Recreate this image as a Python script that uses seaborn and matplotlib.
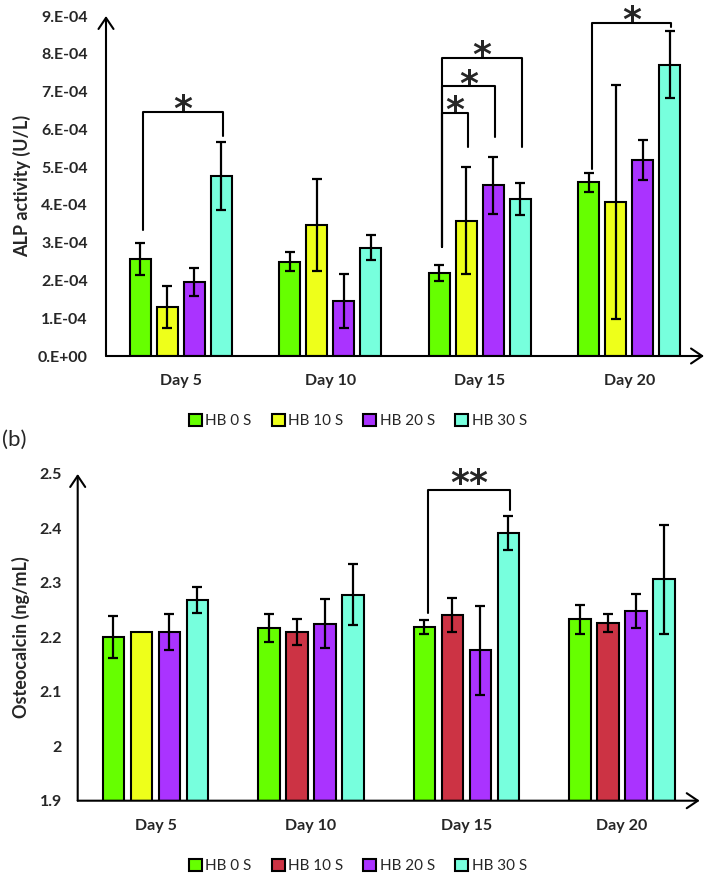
import numpy as np
import pandas as pd
import matplotlib
matplotlib.use("Agg")
import matplotlib.pyplot as plt
import seaborn as sns

days = ["Day 5", "Day 10", "Day 15", "Day 20"]
groups = ["HB 0 S", "HB 10 S", "HB 20 S", "HB 30 S"]

# (a) ALP activity (U/L), one list per group, Day 5..20
alp = {
    "HB 0 S": [2.56e-4, 2.49e-4, 2.19e-4, 4.60e-4],
    "HB 10 S": [1.29e-4, 3.46e-4, 3.58e-4, 4.07e-4],
    "HB 20 S": [1.96e-4, 1.46e-4, 4.52e-4, 5.20e-4],
    "HB 30 S": [4.76e-4, 2.87e-4, 4.16e-4, 7.71e-4],
}
alp_err = {
    "HB 0 S": [0.42e-4, 0.25e-4, 0.21e-4, 0.25e-4],
    "HB 10 S": [0.55e-4, 1.22e-4, 1.42e-4, 3.10e-4],
    "HB 20 S": [0.36e-4, 0.72e-4, 0.75e-4, 0.53e-4],
    "HB 30 S": [0.90e-4, 0.33e-4, 0.42e-4, 0.88e-4],
}
alp_ticks = [0, 1e-4, 2e-4, 3e-4, 4e-4, 5e-4, 6e-4, 7e-4, 8e-4, 9e-4]
alp_ticklabels = ["0.E+00", "1.E-04", "2.E-04", "3.E-04", "4.E-04",
                  "5.E-04", "6.E-04", "7.E-04", "8.E-04", "9.E-04"]
# significance brackets: day, left group, right group, top, left foot, right foot, label
alp_sig = [
    (0, 0, 3, 6.47e-4, 3.33e-4, 5.82e-4, "*"),
    (2, 0, 1, 6.44e-4, 2.88e-4, 5.52e-4, "*"),
    (2, 0, 2, 7.14e-4, 2.88e-4, 5.80e-4, "*"),
    (2, 0, 3, 7.89e-4, 2.88e-4, 5.52e-4, "*"),
    (3, 0, 3, 8.82e-4, 4.94e-4, 8.71e-4, "*"),
]

# (b) Osteocalcin (ng/mL)
ocn = {
    "HB 0 S": [2.201, 2.217, 2.219, 2.233],
    "HB 10 S": [2.210, 2.210, 2.241, 2.226],
    "HB 20 S": [2.210, 2.225, 2.176, 2.248],
    "HB 30 S": [2.268, 2.278, 2.392, 2.307],
}
ocn_err = {
    "HB 0 S": [0.039, 0.026, 0.013, 0.026],
    "HB 10 S": [np.nan, 0.024, 0.031, 0.017],
    "HB 20 S": [0.033, 0.045, 0.081, 0.031],
    "HB 30 S": [0.024, 0.056, 0.031, 0.100],
}
ocn_ticks = [1.9, 2.0, 2.1, 2.2, 2.3, 2.4, 2.5]
ocn_ticklabels = ["1.9", "2", "2.1", "2.2", "2.3", "2.4", "2.5"]
ocn_sig = [(2, 0, 3, 2.471, 2.245, 2.433, "**")]

green, yellow, purple, cyan, red = "#66ff00", "#eeff1a", "#aa33ff", "#77ffdd", "#cc3344"
pal_a = [green, yellow, purple, cyan]
pal_b = [green, red, purple, cyan]

sns.set_theme(style="white")
plt.rcParams["font.family"] = ["Lato", "DejaVu Sans"]


def long_df(vals):
    rows = []
    for g in groups:
        for d, v in zip(days, vals[g]):
            rows.append({"day": d, "group": g, "value": v})
    return pd.DataFrame(rows)


def bar_centers(ax, g):
    return [b.get_x() + b.get_width() / 2 for b in ax.containers[g]]


def draw_panel(ax, vals, errs, pal, ylim, ticks, ticklabels, ylabel, sig, tickpad, star_off):
    sns.barplot(data=long_df(vals), x="day", y="value", hue="group", palette=pal,
                width=0.72, gap=0.22, edgecolor="black", linewidth=1.5,
                saturation=1, errorbar=None, ax=ax)
    for i, g in enumerate(groups):
        xs = np.array(bar_centers(ax, i))
        v = np.array(vals[g])
        e = np.array(errs[g])
        ok = ~np.isnan(e)
        ax.errorbar(xs[ok], v[ok], yerr=e[ok], fmt="none", ecolor="black",
                    elinewidth=1.6, capsize=3.5, capthick=1.6, zorder=5)
    for d, g1, g2, top, lb, rb, lab in sig:
        x1 = bar_centers(ax, g1)[d] + 0.02
        x2 = bar_centers(ax, g2)[d] + 0.01
        ax.plot([x1, x1, x2, x2], [lb, top, top, rb], color="black", lw=1.5,
                clip_on=False, zorder=6)
        ax.annotate(lab, xy=((x1 + x2) / 2, top), xytext=(0, star_off),
                    textcoords="offset points", ha="center", va="baseline",
                    fontsize=26, fontweight="bold", family="DejaVu Sans",
                    annotation_clip=False)
    ax.set_xlim(-0.5, 3.5)
    ax.set_ylim(*ylim)
    ax.set_yticks(ticks)
    ax.set_yticklabels(ticklabels)
    ax.tick_params(axis="both", length=0, labelsize=11.5)
    ax.tick_params(axis="y", pad=tickpad)
    ax.tick_params(axis="x", pad=13)
    for lab in ax.get_xticklabels() + ax.get_yticklabels():
        lab.set_fontweight("bold")
    ax.set_xlabel("")
    ax.set_ylabel(ylabel, fontsize=13, fontweight="bold")
    sns.despine(ax=ax, left=True, bottom=True)
    arrow = dict(arrowstyle="->,head_length=0.4,head_width=0.27", lw=1.5,
                 color="black", shrinkA=0, shrinkB=0, mutation_scale=20)
    ax.annotate("", xy=(0, 1), xytext=(0, 0), xycoords="axes fraction", arrowprops=arrow)
    ax.annotate("", xy=(1, 0), xytext=(0, 0), xycoords="axes fraction", arrowprops=arrow)
    ax.get_legend().remove()


fig = plt.figure(figsize=(7.09, 8.76), dpi=100)
ax1 = fig.add_axes([106 / 709, 520 / 876, 598 / 709, 340 / 876])
ax2 = fig.add_axes([77.7 / 709, 75.3 / 876, 622 / 709, 326.7 / 876])

draw_panel(ax1, alp, alp_err, pal_a, (0, 9e-4), alp_ticks, alp_ticklabels,
           "ALP activity (U/L)", alp_sig, 13, -6)
draw_panel(ax2, ocn, ocn_err, pal_b, (1.9, 2.5), ocn_ticks, ocn_ticklabels,
           "Osteocalcin (ng/mL)", ocn_sig, 11.5, -3)

# Day 5 HB 10 S bar is drawn yellow in panel (b)
ax2.containers[1][0].set_facecolor(yellow)

ax1.yaxis.set_label_coords(-0.126, 0.5)
ax2.yaxis.set_label_coords(-0.077, 0.5)

for ax, pal, yc in [(ax1, pal_a, 1 - 421 / 876), (ax2, pal_b, 1 - 866 / 876)]:
    handles = [plt.Rectangle((0, 0), 1, 1, facecolor=c, edgecolor="black", lw=1.5)
               for c in pal]
    fig.legend(handles, groups, loc="center", bbox_to_anchor=(358 / 709, yc),
               ncol=4, frameon=False, fontsize=11, handlelength=0.85,
               handleheight=0.85, handletextpad=0.25, columnspacing=1.3)

fig.text(2 / 709, 1 - 440 / 876, "(b)", fontsize=16, va="center", ha="left")

fig.savefig("out.png", dpi=100)
